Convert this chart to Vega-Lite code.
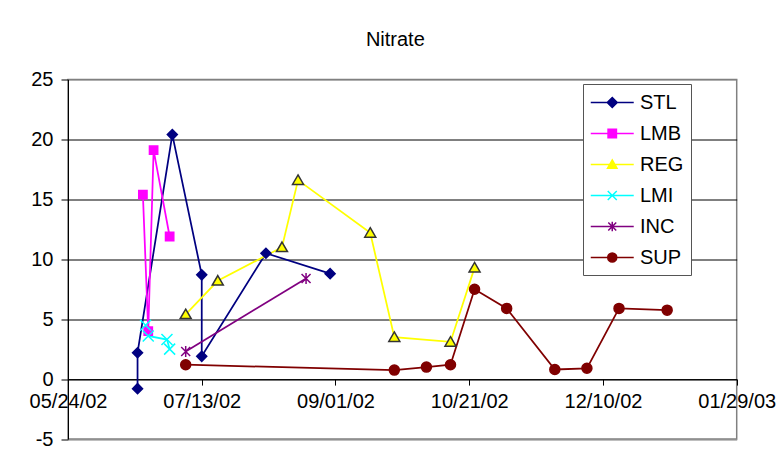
{
  "$schema": "https://vega.github.io/schema/vega-lite/v6.json",
  "width": 668.7,
  "height": 359.5,
  "autosize": {"type": "none"},
  "padding": {"left": 68, "top": 79.5, "right": 41.3, "bottom": 29},
  "background": "white",
  "config": {
    "font": "Liberation Sans",
    "view": {"stroke": "#808080", "strokeWidth": 1.5}
  },
  "title": {
    "text": "Nitrate",
    "fontSize": 20,
    "fontWeight": "normal",
    "font": "Liberation Sans",
    "color": "black",
    "anchor": "middle",
    "dx": -7,
    "offset": 20
  },
  "data": {
    "values": [
      {"site": "STL", "date": "2002-06-19", "v": -0.8, "seq": 1},
      {"site": "STL", "date": "2002-06-19", "v": 2.2, "seq": 2},
      {"site": "STL", "date": "2002-07-02", "v": 20.4, "seq": 3},
      {"site": "STL", "date": "2002-07-13", "v": 8.7, "seq": 4},
      {"site": "STL", "date": "2002-07-13", "v": 1.9, "seq": 5},
      {"site": "STL", "date": "2002-08-06", "v": 10.5, "seq": 6},
      {"site": "STL", "date": "2002-08-30", "v": 8.8, "seq": 7},
      {"site": "LMB", "date": "2002-06-21", "v": 15.4, "seq": 1},
      {"site": "LMB", "date": "2002-06-23", "v": 4.0, "seq": 2},
      {"site": "LMB", "date": "2002-06-25", "v": 19.1, "seq": 3},
      {"site": "LMB", "date": "2002-07-01", "v": 11.9, "seq": 4},
      {"site": "REG", "date": "2002-07-07", "v": 5.4, "seq": 1},
      {"site": "REG", "date": "2002-07-19", "v": 8.2, "seq": 2},
      {"site": "REG", "date": "2002-08-12", "v": 11.0, "seq": 3},
      {"site": "REG", "date": "2002-08-18", "v": 16.6, "seq": 4},
      {"site": "REG", "date": "2002-09-14", "v": 12.2, "seq": 5},
      {"site": "REG", "date": "2002-09-23", "v": 3.5, "seq": 6},
      {"site": "REG", "date": "2002-10-14", "v": 3.1, "seq": 7},
      {"site": "REG", "date": "2002-10-23", "v": 9.3, "seq": 8},
      {"site": "LMI", "date": "2002-06-22", "v": 4.5, "seq": 1},
      {"site": "LMI", "date": "2002-06-23", "v": 3.6, "seq": 2},
      {"site": "LMI", "date": "2002-06-30", "v": 3.3, "seq": 3},
      {"site": "LMI", "date": "2002-07-01", "v": 2.5, "seq": 4},
      {"site": "INC", "date": "2002-07-07", "v": 2.3, "seq": 1},
      {"site": "INC", "date": "2002-08-21", "v": 8.4, "seq": 2},
      {"site": "SUP", "date": "2002-07-07", "v": 1.2, "seq": 1},
      {"site": "SUP", "date": "2002-09-23", "v": 0.75, "seq": 2},
      {"site": "SUP", "date": "2002-10-05", "v": 1.0, "seq": 3},
      {"site": "SUP", "date": "2002-10-14", "v": 1.2, "seq": 4},
      {"site": "SUP", "date": "2002-10-23", "v": 7.5, "seq": 5},
      {"site": "SUP", "date": "2002-11-04", "v": 5.9, "seq": 6},
      {"site": "SUP", "date": "2002-11-22", "v": 0.8, "seq": 7},
      {"site": "SUP", "date": "2002-12-04", "v": 0.9, "seq": 8},
      {"site": "SUP", "date": "2002-12-16", "v": 5.9, "seq": 9},
      {"site": "SUP", "date": "2003-01-03", "v": 5.75, "seq": 10}
    ]
  },
  "encoding": {
    "x": {
      "field": "date",
      "type": "temporal",
      "scale": {
        "type": "utc",
        "domain": [
          {"year": 2002, "month": 5, "date": 24, "utc": true},
          {"year": 2003, "month": 1, "date": 29, "utc": true}
        ]
      },
      "axis": {
        "title": null,
        "grid": false,
        "offset": -59.92,
        "values": [
          {"year": 2002, "month": 5, "date": 24, "utc": true},
          {"year": 2002, "month": 7, "date": 13, "utc": true},
          {"year": 2002, "month": 9, "date": 1, "utc": true},
          {"year": 2002, "month": 10, "date": 21, "utc": true},
          {"year": 2002, "month": 12, "date": 10, "utc": true},
          {"year": 2003, "month": 1, "date": 29, "utc": true}
        ],
        "format": "%m/%d/%y",
        "labelFontSize": 20,
        "labelColor": "black",
        "labelFlush": false,
        "labelOverlap": false,
        "labelBound": false,
        "tickSize": 6,
        "tickColor": "black",
        "domainColor": "black",
        "labelPadding": 6
      }
    },
    "y": {
      "field": "v",
      "type": "quantitative",
      "scale": {"domain": [-5, 25], "nice": false, "zero": false},
      "axis": {
        "title": null,
        "values": [-5, 0, 5, 10, 15, 20, 25],
        "labelExpr": "'' + datum.value",
        "grid": true,
        "gridColor": {"condition": {"test": "datum.value === 25 || datum.value === -5", "value": "#808080"}, "value": "black"},
        "gridWidth": 1,
        "gridOpacity": 1,
        "labelFontSize": 20,
        "labelColor": "black",
        "tickSize": 7,
        "tickColor": "black",
        "domainColor": "black",
        "labelPadding": 8
      }
    }
  },
  "layer": [
    {
      "mark": {"type": "line", "strokeWidth": 1.75},
      "encoding": {
        "order": {"field": "seq", "type": "quantitative"},
        "color": {
          "field": "site",
          "type": "nominal",
          "scale": {
            "domain": ["STL", "LMB", "REG", "LMI", "INC", "SUP"],
            "range": ["#000080", "#FF00FF", "#FFFF00", "#00FFFF", "#800080", "#800000"]
          },
          "legend": null
        }
      }
    },
    {
      "mark": {"type": "point", "strokeWidth": 1.5, "opacity": 1, "size": 100},
      "encoding": {
        "shape": {
          "field": "site",
          "type": "nominal",
          "scale": {
            "domain": ["STL", "LMB", "REG", "LMI", "INC", "SUP"],
            "range": ["diamond", "M-0.83,-0.83H0.83V0.83H-0.83Z", "M0,-1.05L1.1,0.85L-1.1,0.85Z", "M-1.1,-1.1L1.1,1.1M-1.1,1.1L1.1,-1.1", "M-0.9,-0.9L0.9,0.9M-0.9,0.9L0.9,-0.9M0,-1.1V1.1", "circle"]
          },
          "legend": null
        },
        "fill": {
          "field": "site",
          "type": "nominal",
          "scale": {
            "domain": ["STL", "LMB", "REG", "LMI", "INC", "SUP"],
            "range": ["#000080", "#FF00FF", "#FFFF00", "transparent", "transparent", "#800000"]
          },
          "legend": null
        },
        "stroke": {
          "field": "site",
          "type": "nominal",
          "scale": {
            "domain": ["STL", "LMB", "REG", "LMI", "INC", "SUP"],
            "range": ["#000080", "#FF00FF", "#333333", "#00FFFF", "#800080", "#800000"]
          },
          "legend": null
        }
      }
    },
    {
      "transform": [{"filter": "false"}],
      "mark": {"type": "point", "strokeWidth": 1.5, "opacity": 1},
      "encoding": {
        "shape": {
          "field": "site",
          "type": "nominal",
          "scale": {
            "domain": ["STL", "LMB", "REG", "LMI", "INC", "SUP"],
            "range": [
              "M-1,0H3M1,-0.465L1.465,0L1,0.465L0.535,0Z",
              "M-1,0H3M0.61,-0.39H1.39V0.39H0.61Z",
              "M-1,0H3M1,-0.42L1.44,0.35L0.56,0.35Z",
              "M-1,0H3M0.58,-0.42L1.42,0.42M0.58,0.42L1.42,-0.42",
              "M-1,0H3M0.63,-0.37L1.37,0.37M0.63,0.37L1.37,-0.37M1,-0.45V0.45",
              "M-1,0H3M0.58,0A0.42 0.42 0 1 0 1.42 0A0.42 0.42 0 1 0 0.58 0Z"
            ]
          },
          "legend": {
            "title": null,
            "orient": "none",
            "legendX": 515,
            "legendY": 4.5,
            "padding": 7,
            "symbolSize": 462,
            "symbolStrokeWidth": 1.5,
            "labelFontSize": 20,
            "labelColor": "black",
            "labelOffset": 27,
            "rowPadding": 9,
            "strokeColor": "#555555",
            "fillColor": "white"
          }
        },
        "fill": {
          "field": "site",
          "type": "nominal",
          "scale": {
            "domain": ["STL", "LMB", "REG", "LMI", "INC", "SUP"],
            "range": ["#000080", "#FF00FF", "#FFFF00", "transparent", "transparent", "#800000"]
          }
        },
        "stroke": {
          "field": "site",
          "type": "nominal",
          "scale": {
            "domain": ["STL", "LMB", "REG", "LMI", "INC", "SUP"],
            "range": ["#000080", "#FF00FF", "#FFFF00", "#00FFFF", "#800080", "#800000"]
          }
        }
      }
    }
  ],
  "resolve": {
    "scale": {"shape": "independent", "fill": "independent", "stroke": "independent"}
  }
}
